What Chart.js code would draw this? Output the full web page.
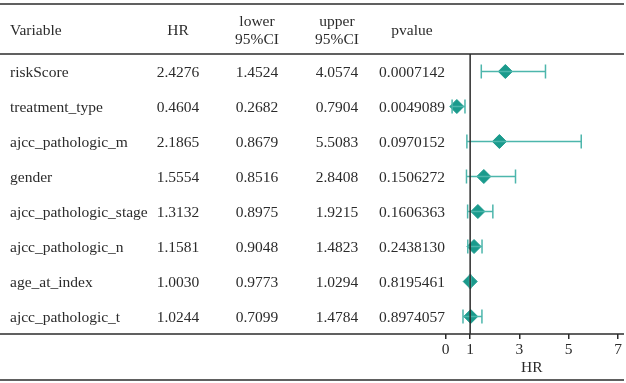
<!DOCTYPE html>
<html>
<head>
<meta charset="utf-8">
<script src="https://cdn.jsdelivr.net/npm/chart.js@4.4.0/dist/chart.umd.min.js"></script>
<style>
  html, body { margin: 0; padding: 0; background: #fff; }
  #wrap { width: 626px; height: 383px; }
</style>
</head>
<body>
<div id="wrap"><canvas id="forest"></canvas></div>
<script>
const variables = ['riskScore', 'treatment_type', 'ajcc_pathologic_m', 'gender',
  'ajcc_pathologic_stage', 'ajcc_pathologic_n', 'age_at_index', 'ajcc_pathologic_t'];
const hr = [2.4276, 0.4604, 2.1865, 1.5554, 1.3132, 1.1581, 1.0030, 1.0244];
const lower = [1.4524, 0.2682, 0.8679, 0.8516, 0.8975, 0.9048, 0.9773, 0.7099];
const upper = [4.0574, 0.7904, 5.5083, 2.8408, 1.9215, 1.4823, 1.0294, 1.4784];
const pvalue = ['0.0007142', '0.0049089', '0.0970152', '0.1506272', '0.1606363', '0.2438130', '0.8195461', '0.8974057'];
const xTicks = [0, 1, 3, 5, 7];

const textColor = '#2b2b2b';
const fontFamily = '"Liberation Serif", "DejaVu Serif", serif';
const font = '15.5px ' + fontFamily;

// table text, rules and error bars
const tablePlugin = {
    id: 'table',
    afterDatasetsDraw(chart) {
        const ctx = chart.ctx;
        const xs = chart.scales.x;
        const ys = chart.scales.y;
        ctx.save();

        // error bars
        ctx.strokeStyle = '#4db6ac';
        ctx.lineWidth = 1.5;
        variables.forEach((v, i) => {
            const y = ys.getPixelForValue(i);
            const x0 = xs.getPixelForValue(lower[i]);
            const x1 = xs.getPixelForValue(upper[i]);
            ctx.beginPath();
            ctx.moveTo(x0, y); ctx.lineTo(x1, y);
            ctx.moveTo(x0, y - 7); ctx.lineTo(x0, y + 7);
            ctx.moveTo(x1, y - 7); ctx.lineTo(x1, y + 7);
            ctx.stroke();
        });
        ctx.restore();
    },
    afterDraw(chart) {
        const ctx = chart.ctx;
        const xs = chart.scales.x;
        const ys = chart.scales.y;
        const area = chart.chartArea;
        ctx.save();

        // horizontal rules
        ctx.strokeStyle = textColor;
        ctx.lineWidth = 1.5;
        [4, area.top, area.bottom, 380].forEach(y => {
            ctx.beginPath();
            ctx.moveTo(0, y); ctx.lineTo(624, y);
            ctx.stroke();
        });

        // reference line at HR = 1
        const x1 = xs.getPixelForValue(1);
        ctx.beginPath();
        ctx.moveTo(x1, area.top); ctx.lineTo(x1, area.bottom);
        ctx.stroke();

        ctx.fillStyle = textColor;
        ctx.font = font;
        ctx.textBaseline = 'middle';

        // header
        ctx.textAlign = 'left';
        ctx.fillText('Variable', 10, 31);
        ctx.textAlign = 'center';
        ctx.fillText('HR', 178, 31);
        ctx.fillText('lower', 257, 22);
        ctx.fillText('95%CI', 257, 40);
        ctx.fillText('upper', 337, 22);
        ctx.fillText('95%CI', 337, 40);
        ctx.fillText('pvalue', 412, 31);

        // rows
        variables.forEach((v, i) => {
            const y = ys.getPixelForValue(i) + 1;
            ctx.textAlign = 'left';
            ctx.fillText(v, 10, y);
            ctx.textAlign = 'center';
            ctx.fillText(hr[i].toFixed(4), 178, y);
            ctx.fillText(lower[i].toFixed(4), 257, y);
            ctx.fillText(upper[i].toFixed(4), 337, y);
            ctx.fillText(pvalue[i], 412, y);
        });
        ctx.restore();
    }
};

new Chart(document.getElementById('forest'), {
    type: 'scatter',
    data: {
        labels: variables,
        datasets: [{
            data: hr.map((h, i) => ({ x: h, y: variables[i] })),
            backgroundColor: '#1a9a8c',
            borderColor: '#1a9a8c',
            pointStyle: 'rectRot',
            pointRadius: 7,
            pointHoverRadius: 7
        }]
    },
    options: {
        responsive: true,
        maintainAspectRatio: false,
        animation: false,
        layout: { padding: { left: 445.5, right: 2, top: 54, bottom: 0 } },
        plugins: { legend: { display: false }, tooltip: { enabled: false } },
        scales: {
            x: {
                type: 'linear',
                min: 0,
                max: 7,
                afterBuildTicks: scale => { scale.ticks = xTicks.map(v => ({ value: v })); },
                afterFit: scale => { scale.height = 49; },
                border: { display: false },
                grid: { drawOnChartArea: false, tickLength: 5, color: textColor, lineWidth: 1.5 },
                ticks: {
                    color: textColor,
                    padding: 2,
                    maxRotation: 0,
                    font: { family: fontFamily, size: 15.5 }
                },
                title: {
                    display: true,
                    text: 'HR',
                    color: textColor,
                    padding: { top: 0, bottom: 6 },
                    font: { family: fontFamily, size: 15.5 }
                }
            },
            y: {
                type: 'category',
                offset: true,
                display: false
            }
        }
    },
    plugins: [tablePlugin]
});
</script>
</body>
</html>
